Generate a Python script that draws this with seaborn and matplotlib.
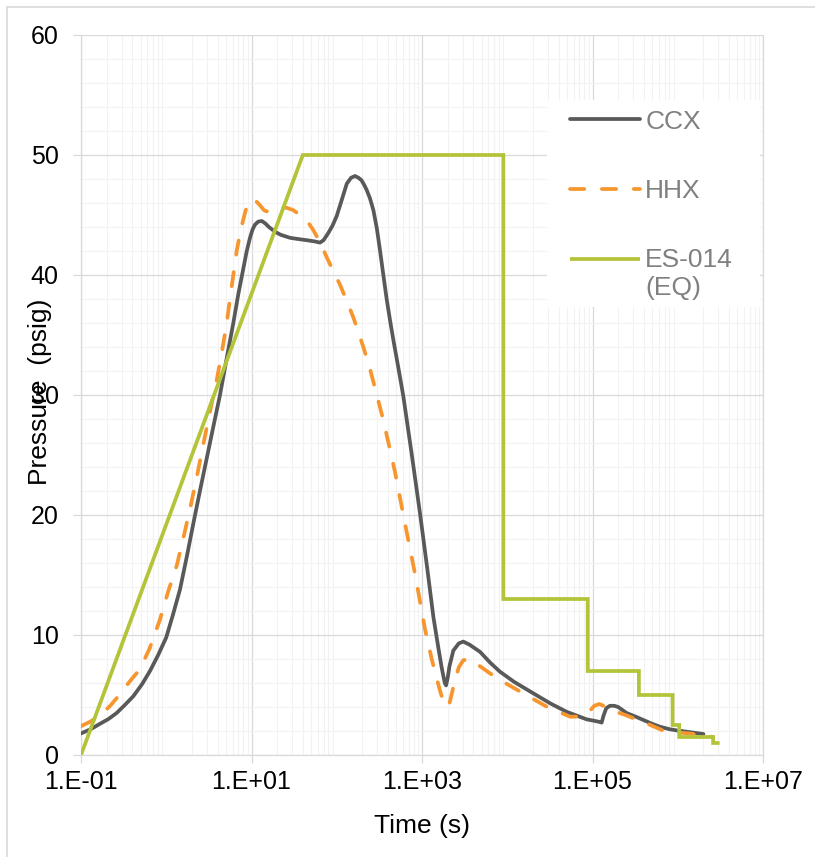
import numpy as np
import matplotlib
matplotlib.use("Agg")
import matplotlib.pyplot as plt
import seaborn as sns
from matplotlib.ticker import LogLocator, MultipleLocator, FixedLocator, FixedFormatter, NullFormatter
from matplotlib.lines import Line2D
from matplotlib.patches import Rectangle
from matplotlib.legend_handler import HandlerLine2D

# --- data -----------------------------------------------------------------
ccx_time = [0.1, 0.13, 0.167, 0.21, 0.262, 0.33, 0.411, 0.52, 0.644, 0.8, 1.0,
            1.2, 1.45, 1.75, 2.08, 2.5, 2.98, 3.6, 4.27, 5.1, 6.12, 7.0, 8.0,
            8.8, 9.6, 10.3, 11.0, 12.0, 13.2, 14.5, 16.0, 18.9, 22.0, 28.3, 35.0,
            44.4, 55.0, 63.6, 70, 79.6, 89, 99.7, 115, 131, 147, 164, 180, 195,
            210, 224, 245, 269, 295, 321, 352, 385, 420, 461, 530, 604, 760, 949,
            1150, 1360, 1550, 1700, 1850, 1915, 2000, 2100, 2330, 2700, 3050,
            3600, 4790, 6300, 8220, 12000, 20200, 32000, 49700, 70000, 85500,
            105000, 122000, 128000, 135000, 145000, 160000, 180000, 200000,
            251000, 320000, 394000, 500000, 617000, 800000, 972000, 1400000,
            2000000]
ccx_pressure = [1.8, 2.15, 2.6, 3.0, 3.5, 4.2, 4.9, 5.9, 7.0, 8.3, 9.8,
                11.7, 13.8, 16.6, 19.3, 22.1, 24.7, 27.5, 30.0, 33.0, 36.0, 38.4,
                40.5, 42.0, 43.1, 43.8, 44.2, 44.45, 44.5, 44.3, 44.0, 43.6, 43.35,
                43.1, 43.0, 42.9, 42.8, 42.7, 42.9, 43.5, 44.1, 44.9, 46.3, 47.6,
                48.1, 48.25, 48.1, 47.9, 47.5, 47.1, 46.4, 45.4, 43.9, 42.1, 40.0,
                38.0, 36.3, 34.6, 32.2, 29.9, 25.0, 20.1, 15.6, 11.5, 9.0, 7.3, 6.0,
                5.8, 6.4, 7.4, 8.7, 9.3, 9.45, 9.2, 8.6, 7.7, 6.94, 6.1, 5.14, 4.3,
                3.6, 3.2, 2.97, 2.85, 2.75, 2.7, 3.3, 3.9, 4.1, 4.1, 4.0, 3.5,
                3.2, 2.92, 2.6, 2.36, 2.15, 2.05, 1.9, 1.75]

hhx_time = [0.1, 0.13, 0.167, 0.22, 0.286, 0.37, 0.49, 0.64, 0.845, 1.05, 1.33,
            1.6, 1.9, 2.3, 2.72, 3.3, 3.91, 4.5, 5.12, 5.9, 6.7, 7.5, 8.4, 9.0,
            9.6, 10.5, 11.5, 12.6, 14.0, 15.1, 17.0, 19.7, 25.9, 31.0, 37, 45,
            53, 64, 76, 90, 109, 130, 156, 205, 245, 352, 482, 631, 828, 1084,
            1300, 1486, 1650, 1800, 1950, 2100, 2250, 2440, 2700, 3050, 3700,
            4370, 6000, 8220, 15400, 29000, 54500, 70000, 85500, 95000, 105000,
            120000, 135000, 160000, 190000, 250000, 330000, 430000, 650000,
            900000, 1330000, 2000000, 2600000]
hhx_pressure = [2.4, 2.8, 3.27, 4.1, 5.06, 6.1, 7.14, 8.9, 11.3, 13.6, 15.8,
                18.2, 20.5, 23.3, 25.9, 28.8, 31.25, 33.6, 36.0, 39.2, 42.0, 43.8,
                45.2, 45.9, 46.2, 46.3, 46.1, 45.8, 45.4, 45.3, 45.5, 45.7, 45.6,
                45.4, 45.0, 44.5, 43.75, 42.7, 41.5, 40.4, 39.2, 37.9, 36.5, 34.0,
                32.2, 27.9, 23.6, 19.3, 15.1, 10.5, 8.0, 6.4, 5.2, 4.4, 4.0, 4.3,
                5.2, 6.25, 7.3, 7.9, 8.0, 7.6, 6.9, 6.25, 5.14, 4.03, 3.19, 3.2,
                3.4, 3.75, 4.1, 4.25, 4.1, 3.85, 3.6, 3.3, 2.95, 2.64, 2.08, 1.9,
                1.8, 1.65, 1.5]

eq_time = [0.1, 40, 9000, 9000, 88000, 88000, 350000, 350000, 870000, 870000,
           1040000, 1040000, 2600000, 2600000, 3100000]
eq_pressure = [0, 50, 50, 13, 13, 7, 7, 5, 5, 2.5, 2.5, 1.5, 1.5, 1.0, 1.0]

series_names = ["CCX", "HHX", "ES-014\n(EQ)"]
series_colors = ["#595959", "#f7962f", "#b4c43a"]

x_tick_values = [1e-1, 1e1, 1e3, 1e5, 1e7]
x_tick_labels = ["1.E-01", "1.E+01", "1.E+03", "1.E+05", "1.E+07"]


class FirstLineHandler(HandlerLine2D):
    """Line handle raised to sit beside the first line of a two-line label."""

    def __init__(self, shift, **kw):
        super().__init__(**kw)
        self.shift = shift

    def create_artists(self, legend, orig_handle, xdescent, ydescent,
                       width, height, fontsize, trans):
        artists = super().create_artists(legend, orig_handle, xdescent, ydescent,
                                         width, height, fontsize, trans)
        for a in artists:
            a.set_ydata(np.asarray(a.get_ydata()) + self.shift * fontsize)
        return artists


# --- style ----------------------------------------------------------------
sns.set_theme(style="white")
plt.rcParams["font.family"] = ["Liberation Sans", "DejaVu Sans"]

W, H = 815, 857
fig = plt.figure(figsize=(W / 100, H / 100), dpi=100)
fig.patch.set_facecolor("white")
ax = fig.add_axes([81 / W, (H - 755) / H, 682 / W, 720 / H])
ax.set_facecolor("white")

lw = 2.7
sns.lineplot(x=ccx_time, y=ccx_pressure, ax=ax, color=series_colors[0],
             linewidth=lw, estimator=None, sort=False, label=series_names[0],
             solid_capstyle="round", solid_joinstyle="round", zorder=3)
sns.lineplot(x=hhx_time, y=hhx_pressure, ax=ax, color=series_colors[1],
             linewidth=lw, estimator=None, sort=False, label=series_names[1],
             linestyle=(0, (3.8, 4.7)), dash_capstyle="round", zorder=4)
sns.lineplot(x=eq_time, y=eq_pressure, ax=ax, color=series_colors[2],
             linewidth=lw, estimator=None, sort=False, label=series_names[2],
             solid_capstyle="butt", solid_joinstyle="miter", zorder=5)

# --- axes -----------------------------------------------------------------
ax.set_xscale("log")
ax.set_xlim(1e-1, 1e7)
ax.set_ylim(0, 60)

ax.xaxis.set_major_locator(FixedLocator(x_tick_values))
ax.xaxis.set_major_formatter(FixedFormatter(x_tick_labels))
ax.xaxis.set_minor_locator(LogLocator(base=10, subs=np.arange(2, 10), numticks=100))
ax.xaxis.set_minor_formatter(NullFormatter())
ax.yaxis.set_major_locator(MultipleLocator(10))
ax.yaxis.set_minor_locator(MultipleLocator(2))

grid_major = "#d9d9d9"
grid_minor = "#f2f2f2"
ax.grid(True, which="minor", color=grid_minor, linewidth=0.8, zorder=0)
ax.grid(True, which="major", color=grid_major, linewidth=0.9, zorder=1)
ax.set_axisbelow(True)

for side in ["left", "bottom", "top", "right"]:
    ax.spines[side].set_color(grid_major)
    ax.spines[side].set_linewidth(0.9)
ax.spines["top"].set_visible(False)

ax.tick_params(axis="both", which="major", length=6, width=0.9, color=grid_major,
               labelsize=18, labelcolor="#000000")
ax.tick_params(axis="y", which="major", pad=10, left=True)
ax.tick_params(axis="x", which="major", pad=5, bottom=True)
ax.tick_params(axis="both", which="minor", length=0)

ax.set_xlabel("Time (s)", fontsize=19, color="#000000", labelpad=14)
ax.set_ylabel("Pressure  (psig)", fontsize=19, color="#000000")
ax.yaxis.label.set_verticalalignment("center")
ax.yaxis.set_label_coords((40 - 81) / 682, 0.505)

# --- legend ---------------------------------------------------------------
# white panel behind the legend entries
ax.add_patch(Rectangle((0.683, 0.622), 0.3126, 0.2877, transform=ax.transAxes,
                       facecolor="white", edgecolor="none", zorder=2))
handles, labels = ax.get_legend_handles_labels()
leg = ax.legend(handles, labels, loc="upper left", bbox_to_anchor=(0.717, 0.8962),
                fontsize=19, frameon=False, borderpad=0, labelspacing=1.71,
                handlelength=2.65, handletextpad=0.2, borderaxespad=0,
                handler_map={handles[2]: FirstLineHandler(shift=0.58)})
for txt in leg.get_texts():
    txt.set_color("#808080")
leg.set_zorder(10)

# --- outer border ---------------------------------------------------------
fig.add_artist(Line2D([7 / W, 1.0], [1 - 7 / H, 1 - 7 / H],
                      transform=fig.transFigure, color="#d9d9d9", linewidth=1.2))
fig.add_artist(Line2D([7 / W, 7 / W], [0.0, 1 - 7 / H],
                      transform=fig.transFigure, color="#d9d9d9", linewidth=1.2))

fig.savefig("out.png", dpi=100, facecolor="white")
